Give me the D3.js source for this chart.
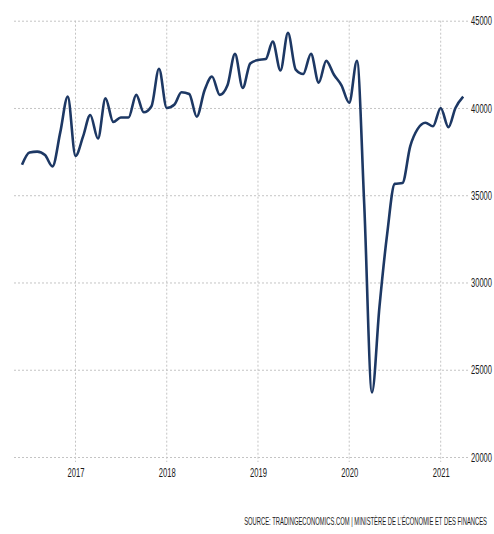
<!DOCTYPE html>
<html>
<head>
<meta charset="utf-8">
<script src="https://cdn.jsdelivr.net/npm/d3@7"></script>
<style>
  body { margin: 0; background: #fff; }
  svg { display: block; }
  .grid line { stroke: #c4c4c4; stroke-dasharray: 2,2; }
  .axis text { font-family: "Liberation Sans Narrow", "Liberation Sans", sans-serif; fill: #1a1a1a; }
</style>
</head>
<body>
<svg id="chart" width="494" height="534"></svg>
<script>
// monthly values, June 2016 .. April 2021
let startMonth = new Date(2016, 5, 1)
let values = [
    36750, 37450, 37500, 37300, 36650, 38600, 40650,
    37250, 38400, 39600, 38250, 40550, 39200, 39450, 39450, 40750, 39750, 40100, 42250,
    40000, 40200, 40900, 40800, 39500, 41000, 41800, 40750, 41300, 43100, 41150, 42550,
    42750, 42800, 43800, 42150, 44300, 42200, 41950, 43100, 41450, 42700, 41900, 41300,
    40300, 42700, 34500, 23700, 28600, 32800, 35650, 35700, 37800, 38800, 39150, 38950,
    40000, 38900, 40000, 40650
]
let yTicks = [20000, 25000, 30000, 35000, 40000, 45000]
let xTickYears = [2017, 2018, 2019, 2020, 2021]
let sourceText = 'SOURCE: TRADINGECONOMICS.COM | MINISTÈRE DE L\u2019ÉCONOMIE ET DES FINANCES'

// squeeze a text horizontally to a given width, anchored at its x
function condense(sel, width) {
    sel.each(function () {
        let t = d3.select(this),
            w = this.getComputedTextLength(),
            x0 = +t.attr('x') || 0,
            sx = width / w
        t.attr('x', 0).attr('transform', 'translate(' + x0 + ',0) scale(' + sx + ',1)')
    })
}

function main() {
    let svg = d3.select('#chart'),
        left = 14, right = 468, top = 20.7, bottom = 457

    let data = values.map((v, i) => ({date: d3.timeMonth.offset(startMonth, i), value: v}))

    let x = d3.scaleTime()
        .domain([new Date(2017, 0, 1), new Date(2021, 0, 1)])
        .range([75.5, 440.7])
    let y = d3.scaleLinear().domain([20000, 45000]).range([bottom, top])

    // horizontal grid + labels on the right
    let yAxis = svg.append('g')
        .attr('class', 'axis grid')
        .attr('transform', 'translate(' + right + ',0)')
        .call(d3.axisRight(y).tickValues(yTicks).tickSize(-(right - left)).tickPadding(3).tickFormat(d3.format('d')))
    yAxis.select('.domain').remove()
    yAxis.selectAll('text').attr('font-size', 13).call(condense, 21)

    // vertical grid
    let yearDates = xTickYears.map(yr => new Date(yr, 0, 1))
    svg.append('g')
        .attr('class', 'grid')
        .selectAll('line')
        .data(yearDates)
        .enter()
        .append('line')
        .attr('x1', d => x(d)).attr('x2', d => x(d))
        .attr('y1', top).attr('y2', bottom + 5)

    let xAxis = svg.append('g')
        .attr('class', 'axis')
        .attr('transform', 'translate(0,' + bottom + ')')
        .call(d3.axisBottom(x).tickValues(yearDates).tickSize(5).tickPadding(5).tickFormat(d3.timeFormat('%Y')))
    xAxis.select('.domain').remove()
    xAxis.selectAll('line').remove()
    xAxis.selectAll('text').attr('font-size', 13.5).call(condense, 17)

    let line = d3.line()
        .x(d => x(d.date))
        .y(d => y(d.value))
        .curve(d3.curveMonotoneX)

    svg.append('path')
        .datum(data)
        .attr('fill', 'none')
        .attr('stroke', '#1d3864')
        .attr('stroke-width', 2.6)
        .attr('stroke-linejoin', 'round')
        .attr('d', line)

    svg.append('text')
        .attr('x', 487)
        .attr('y', 525)
        .attr('text-anchor', 'end')
        .attr('font-family', '"Liberation Sans Narrow", "Liberation Sans", sans-serif')
        .attr('font-size', 11)
        .attr('fill', '#1a1a1a')
        .text(sourceText)
        .call(condense, 243)
}

main()
</script>
</body>
</html>
